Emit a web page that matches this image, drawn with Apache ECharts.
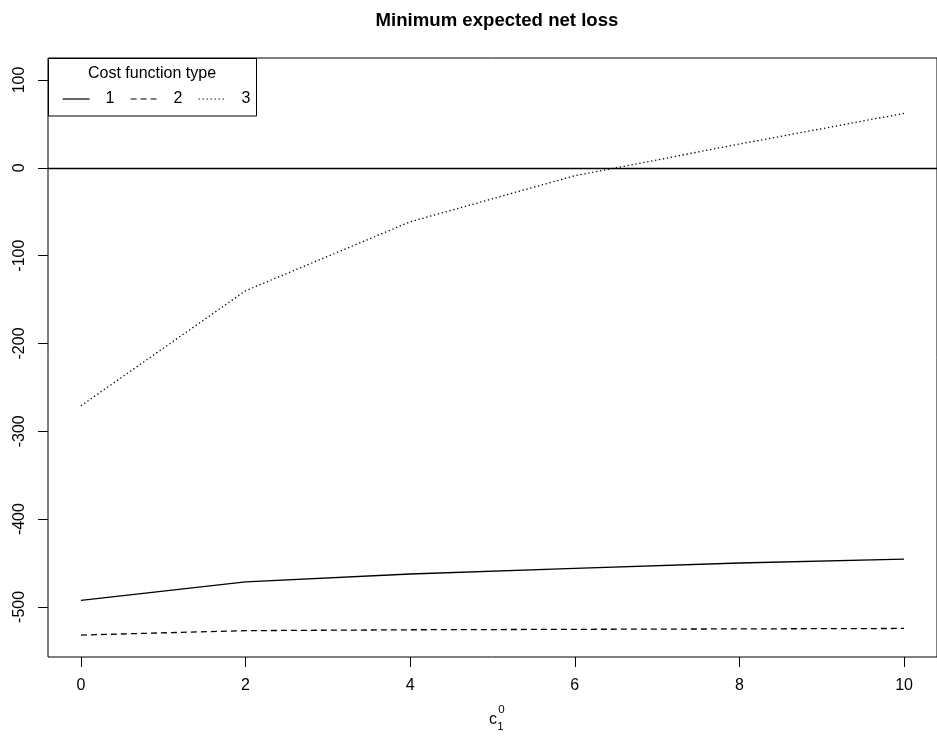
<!DOCTYPE html>
<html>
<head>
<meta charset="utf-8">
<script src="https://cdn.jsdelivr.net/npm/echarts@6/dist/echarts.min.js"></script>
<style>
html,body{margin:0;padding:0;background:#fff;}
#chart{width:937px;height:736px;}
</style>
</head>
<body>
<div id="chart"></div>
<script>
// ---- data ----
const xValues = [0, 2, 4, 6, 8, 10];
const type1 = [-492.5, -471.5, -462.5, -456, -450, -445.5];
const type2 = [-532, -527, -526, -525.5, -525, -524.5];
const type3 = [-271, -140, -61.5, -9, 27, 62];
const seriesNames = ['1', '2', '3'];
const xTicks = [0, 2, 4, 6, 8, 10];
const yTicks = [-500, -400, -300, -200, -100, 0, 100];
const titleText = 'Minimum expected net loss';
const legendTitle = 'Cost function type';

const FONT = 'Liberation Sans, Arial, Helvetica, sans-serif';
const NARROW = '"Liberation Sans Narrow", "Arial Narrow", "Helvetica Narrow", sans-serif';
function pairs(ys) { return xValues.map((x, i) => [x, ys[i]]); }

const chart = echarts.init(document.getElementById('chart'), null, {renderer: 'canvas'});
const lineStyles = [
  {color: '#000', width: 1.3, type: 'solid'},
  {color: '#000', width: 1.3, type: [6, 4]},
  {color: '#000', width: 1.3, type: [1.3, 2.7]}
];
const allY = [type1, type2, type3];

const series = allY.map((ys, i) => ({
  name: seriesNames[i],
  type: 'line',
  data: pairs(ys),
  symbol: 'none',
  showSymbol: false,
  lineStyle: lineStyles[i],
  itemStyle: {color: '#000'},
  silent: true,
  animation: false,
  z: 3
}));
series[0].markLine = {
  silent: true,
  symbol: 'none',
  label: {show: false},
  lineStyle: {color: '#000', width: 1.3, type: 'solid'},
  data: [{yAxis: 0}],
  animation: false
};

chart.setOption({
  animation: false,
  backgroundColor: '#fff',
  title: {
    text: titleText,
    left: 497,
    top: 11,
    padding: 0,
    textAlign: 'center',
    textStyle: {fontFamily: FONT, fontSize: 18.6, fontWeight: 'bold', color: '#000'}
  },
  grid: {
    left: 48, top: 58, right: -9.6, bottom: 79,
    show: true, borderColor: '#000', borderWidth: 1, backgroundColor: 'transparent'
  },
  legend: {
    data: seriesNames,
    left: 62,
    top: 91,
    padding: 0,
    orient: 'horizontal',
    itemWidth: 27,
    itemHeight: 16,
    itemGap: 15.5,
    selectedMode: false,
    itemStyle: {opacity: 0},
    lineStyle: {width: 1.2},
    textStyle: {fontFamily: FONT, fontSize: 16, color: '#000', padding: [0, 0, 0, 11]},
    z: 10
  },
  xAxis: {
    type: 'value',
    min: -0.4,
    max: 10.4,
    axisLine: {show: false, onZero: false},
    splitLine: {show: false},
    axisTick: {show: true, length: 10, inside: false, customValues: xTicks, lineStyle: {color: '#000'}},
    axisLabel: {customValues: xTicks, margin: 21, fontFamily: NARROW, fontSize: 16, color: '#000'}
  },
  yAxis: {
    type: 'value',
    min: -557,
    max: 125,
    axisLine: {show: false, onZero: false},
    splitLine: {show: false},
    axisTick: {show: true, length: 10, inside: false, customValues: yTicks, lineStyle: {color: '#000'}},
    axisLabel: {customValues: yTicks, margin: 20, rotate: 90, fontFamily: NARROW, fontSize: 16, color: '#000'}
  },
  graphic: [
    {
      type: 'rect', z: 5, silent: true,
      shape: {x: 48.5, y: 58.5, width: 208, height: 57.5},
      style: {fill: 'rgba(0,0,0,0)', stroke: '#000', lineWidth: 1}
    },
    {
      type: 'text', z: 6, silent: true, x: 152, y: 74,
      style: {text: legendTitle, fontFamily: FONT, fontSize: 16, fill: '#000', textAlign: 'center', textVerticalAlign: 'middle'}
    },
    {
      type: 'text', z: 6, silent: true, x: 493, y: 720,
      style: {text: 'c', fontFamily: NARROW, fontSize: 16, fill: '#000', textAlign: 'center', textVerticalAlign: 'middle'}
    },
    {
      type: 'text', z: 6, silent: true, x: 501.5, y: 710,
      style: {text: '0', fontFamily: NARROW, fontSize: 11.5, fill: '#000', textAlign: 'center', textVerticalAlign: 'middle'}
    },
    {
      type: 'text', z: 6, silent: true, x: 500.5, y: 727,
      style: {text: '1', fontFamily: NARROW, fontSize: 11.5, fill: '#000', textAlign: 'center', textVerticalAlign: 'middle'}
    }
  ],
  series: series
});
</script>
</body>
</html>
